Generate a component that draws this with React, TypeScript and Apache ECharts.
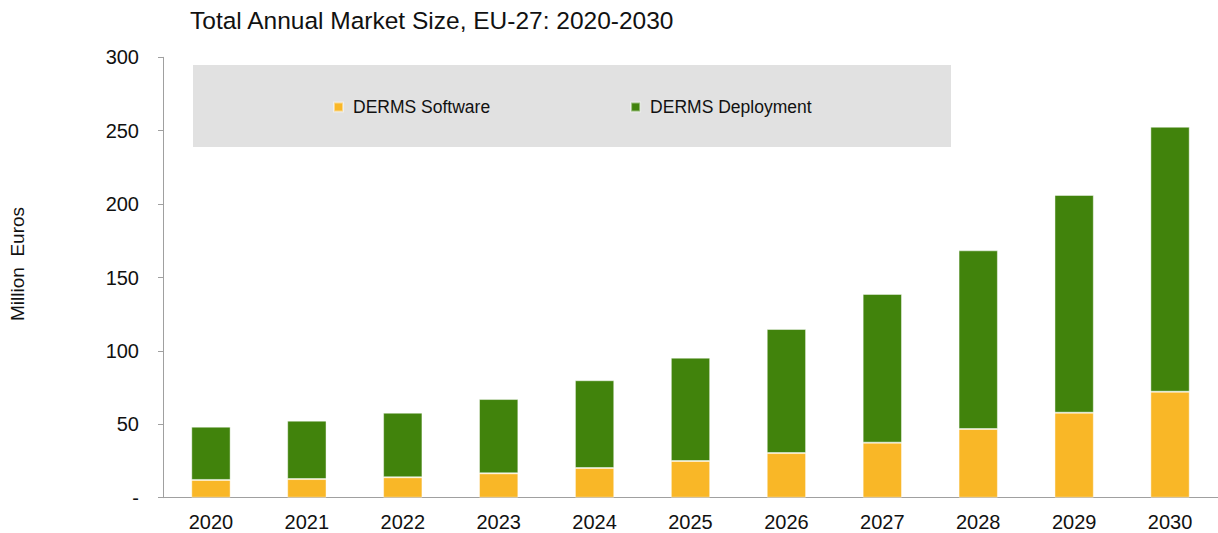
import React, { useEffect, useRef } from "react";
import * as echarts from "echarts";

const years = ["2020", "2021", "2022", "2023", "2024", "2025", "2026", "2027", "2028", "2029", "2030"];
const softwareValues = [12.1, 12.7, 13.9, 16.6, 20.2, 25.0, 30.4, 37.5, 46.8, 57.9, 72.2];
const deploymentValues = [36.3, 39.8, 44.0, 50.6, 59.8, 70.4, 84.5, 101.3, 121.7, 148.3, 180.5];
const seriesNames = ["DERMS Software", "DERMS Deployment"];
const titleText = "Total Annual Market Size, EU-27: 2020-2030";
const yAxisLabel = "Million  Euros";

const FONT = "'Liberation Sans', Arial, Helvetica, sans-serif";
const ORANGE = "#F9B727";
const GREEN = "#41830C";

export default function App() {
  const ref = useRef<HTMLDivElement>(null);
  useEffect(() => {
    document.body.style.margin = "0";
    const chart = echarts.init(ref.current!, null, { renderer: "svg" });
    chart.setOption({
      animation: false,
      backgroundColor: "#ffffff",
      textStyle: { fontFamily: FONT },
      title: {
        text: titleText,
        left: 185,
        top: 3,
        textStyle: { fontSize: 24.5, fontWeight: "normal", color: "#111", fontFamily: FONT },
      },
      graphic: [
        {
          type: "rect",
          z: -1,
          shape: { x: 193, y: 65, width: 758, height: 82 },
          style: { fill: "#E1E1E1" },
        },
      ],
      legend: {
        data: seriesNames,
        left: 328,
        top: 93,
        icon: "rect",
        itemWidth: 9,
        itemHeight: 9,
        itemGap: 140,
        textStyle: { fontSize: 17.5, color: "#111", fontFamily: FONT, padding: [0, 0, 0, 5] },
      },
      grid: { left: 163, right: 0, top: 57.3, bottom: 35.3, containLabel: false },
      xAxis: {
        type: "category",
        data: years,
        axisLine: { lineStyle: { color: "#A0A0A0", width: 1 } },
        axisTick: { show: false },
        axisLabel: { fontSize: 20, color: "#111", margin: 14, fontFamily: FONT },
      },
      yAxis: {
        type: "value",
        min: 0,
        max: 300,
        interval: 50,
        name: yAxisLabel,
        nameLocation: "middle",
        nameRotate: 90,
        nameGap: 136,
        nameTextStyle: { fontSize: 19, color: "#111", fontFamily: FONT, padding: [0, 0, 0, 27] },
        axisLine: { show: true, lineStyle: { color: "#A0A0A0", width: 1 } },
        axisTick: { show: true, length: 5, lineStyle: { color: "#A0A0A0" } },
        splitLine: { show: false },
        axisLabel: {
          fontSize: 20,
          color: "#111",
          margin: 24,
          fontFamily: FONT,
          formatter: (v: number) => (v === 0 ? "-" : String(v)),
        },
      },
      series: [
        {
          name: seriesNames[0],
          type: "bar",
          stack: "total",
          barWidth: "41%",
          data: softwareValues,
          itemStyle: { color: ORANGE, borderColor: "rgba(255,255,255,0.45)", borderWidth: 1 },
        },
        {
          name: seriesNames[1],
          type: "bar",
          stack: "total",
          barWidth: "41%",
          data: deploymentValues,
          itemStyle: { color: GREEN, borderColor: "rgba(255,255,255,0.45)", borderWidth: 1 },
        },
      ],
    });
    return () => chart.dispose();
  }, []);
  return <div ref={ref} style={{ width: 1218, height: 533 }} />;
}
